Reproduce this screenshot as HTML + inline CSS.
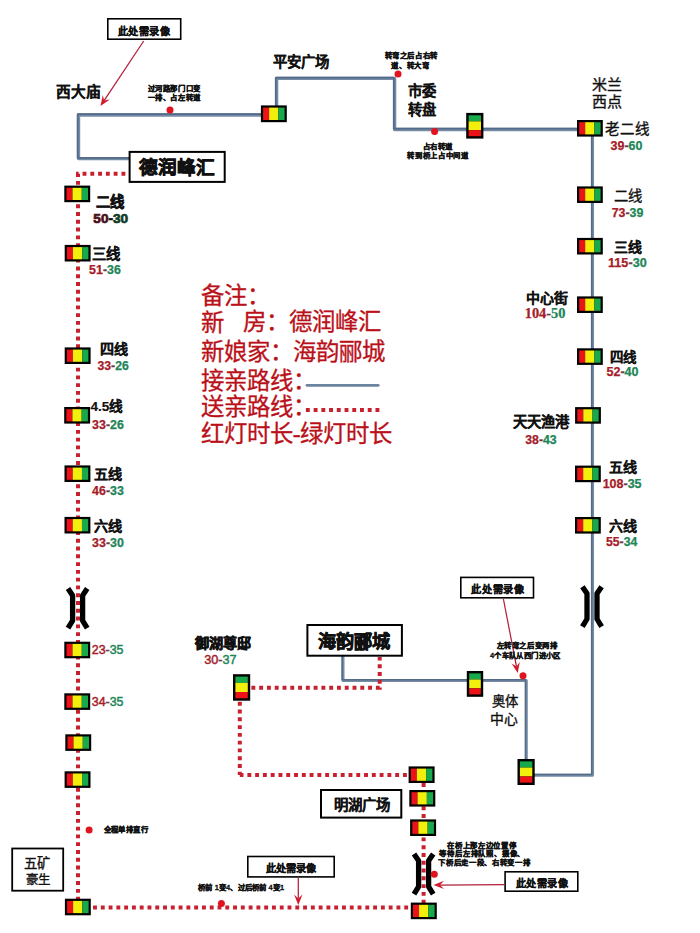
<!DOCTYPE html><html lang="zh-CN"><head><meta charset="utf-8"><title>route</title><style>
*{margin:0;padding:0}
html,body{width:700px;height:933px;overflow:hidden;background:#fff}
body{position:relative;font-family:"Liberation Sans",sans-serif}
svg{position:absolute;left:0;top:0}
.t{position:absolute;white-space:pre;line-height:1;color:#111}
.lb{font-weight:700;-webkit-text-stroke:0.15px #111}
.lr{font-weight:400;-webkit-text-stroke:0.35px #111}
.bd{font-weight:700;-webkit-text-stroke:0.6px #111}
.nm{font-weight:700;font-family:"Liberation Sans",sans-serif;-webkit-text-stroke-width:0.25px}
.nm.lt{font-weight:400;-webkit-text-stroke-width:0.45px}
.hv{-webkit-text-stroke-width:0.7px}
.nm.ser{font-family:"Liberation Serif",serif}
.tn{font-weight:700;-webkit-text-stroke:0.3px #111}
.lg{color:#ba1019;font-family:"Liberation Serif",serif;-webkit-text-stroke:0.3px #ba1019}
.r{color:#a51b29}.g{color:#218456}.h{color:#6a3a44}
.dr{color:#4a0f18}.dg{color:#143c26}
</style></head><body><svg width="700" height="933" viewBox="0 0 700 933"><polyline points="130,158.6 78.5,158.6 78.5,115 262,115" fill="none" stroke="#768ca6" stroke-width="3.4" stroke-linejoin="round"/><polyline points="276.6,106 276.6,78.4 394.6,78.4 394.6,129.5 590,129.5" fill="none" stroke="#768ca6" stroke-width="3.4" stroke-linejoin="round"/><polyline points="592.5,130 592.5,775.3 530,775.3" fill="none" stroke="#768ca6" stroke-width="3.1" stroke-linejoin="round"/><polyline points="526.3,760 526.3,680.5 343,680.5 343,656" fill="none" stroke="#768ca6" stroke-width="3.0" stroke-linejoin="round"/><g transform="translate(-0.8,-0.8)"><polyline points="130,158.6 78.5,158.6 78.5,115 262,115" fill="none" stroke="#536b88" stroke-width="1.7" stroke-linejoin="round"/></g><g transform="translate(-0.8,-0.8)"><polyline points="276.6,106 276.6,78.4 394.6,78.4 394.6,129.5 590,129.5" fill="none" stroke="#536b88" stroke-width="1.7" stroke-linejoin="round"/></g><g transform="translate(-0.8,-0.8)"><polyline points="592.5,130 592.5,775.3 530,775.3" fill="none" stroke="#536b88" stroke-width="1.55" stroke-linejoin="round"/></g><g transform="translate(-0.8,-0.8)"><polyline points="526.3,760 526.3,680.5 343,680.5 343,656" fill="none" stroke="#536b88" stroke-width="1.5" stroke-linejoin="round"/></g><polyline points="379.7,657 379.7,687.7 250,687.7" fill="none" stroke="#c8202f" stroke-width="4.0" stroke-dasharray="3.89 3.89" stroke-dashoffset="0.5"/><polyline points="239.8,701 239.8,775.0" fill="none" stroke="#c8202f" stroke-width="4.0" stroke-dasharray="3.89 3.89" stroke-dashoffset="-0.8"/><polyline points="239.8,775.0 411,775.0" fill="none" stroke="#c8202f" stroke-width="4.0" stroke-dasharray="3.89 3.89" stroke-dashoffset="0.2"/><polyline points="423.6,783 423.6,903" fill="none" stroke="#c8202f" stroke-width="4.0" stroke-dasharray="3.89 3.89"/><polyline points="411,907.5 78,907.5" fill="none" stroke="#c8202f" stroke-width="4.0" stroke-dasharray="3.89 3.89" stroke-dashoffset="-2.86"/><polyline points="78,907.5 78,173.8 129,173.8" fill="none" stroke="#c8202f" stroke-width="4.0" stroke-dasharray="3.89 3.89" stroke-dashoffset="0.85"/><path d="M68.0 588.6 L72.6 595.4 L72.6 620.6 L68.0 628.2" fill="none" stroke="#000" stroke-width="5.3" stroke-linejoin="round"/><path d="M87.2 588.6 L82.6 595.4 L82.6 620.6 L87.2 628.2" fill="none" stroke="#000" stroke-width="5.3" stroke-linejoin="round"/><path d="M582.4 586.8 L587.0 593.6 L587.0 619.0 L582.4 626.6" fill="none" stroke="#000" stroke-width="5.3" stroke-linejoin="round"/><path d="M601.6 586.8 L597.0 593.6 L597.0 619.0 L601.6 626.6" fill="none" stroke="#000" stroke-width="5.3" stroke-linejoin="round"/><path d="M414.0 854.0 L418.6 860.8 L418.6 886.6 L414.0 894.2" fill="none" stroke="#000" stroke-width="5.3" stroke-linejoin="round"/><path d="M433.2 854.0 L428.6 860.8 L428.6 886.6 L433.2 894.2" fill="none" stroke="#000" stroke-width="5.3" stroke-linejoin="round"/><rect x="64.30" y="185.60" width="25.90" height="16.60" fill="#000"/><rect x="66.50" y="187.80" width="6.02" height="12.20" fill="#ec1318"/><rect x="72.52" y="187.80" width="9.24" height="12.20" fill="#f3ef0c"/><rect x="81.77" y="187.80" width="6.24" height="12.20" fill="#17a94b"/><rect x="64.70" y="244.90" width="25.90" height="16.60" fill="#000"/><rect x="66.90" y="247.10" width="6.02" height="12.20" fill="#ec1318"/><rect x="72.92" y="247.10" width="9.24" height="12.20" fill="#f3ef0c"/><rect x="82.17" y="247.10" width="6.24" height="12.20" fill="#17a94b"/><rect x="64.70" y="347.40" width="25.90" height="16.60" fill="#000"/><rect x="66.90" y="349.60" width="6.02" height="12.20" fill="#ec1318"/><rect x="72.92" y="349.60" width="9.24" height="12.20" fill="#f3ef0c"/><rect x="82.17" y="349.60" width="6.24" height="12.20" fill="#17a94b"/><rect x="64.20" y="407.00" width="25.90" height="16.60" fill="#000"/><rect x="66.40" y="409.20" width="6.02" height="12.20" fill="#ec1318"/><rect x="72.42" y="409.20" width="9.24" height="12.20" fill="#f3ef0c"/><rect x="81.67" y="409.20" width="6.24" height="12.20" fill="#17a94b"/><rect x="64.50" y="465.40" width="25.90" height="16.60" fill="#000"/><rect x="66.70" y="467.60" width="6.02" height="12.20" fill="#ec1318"/><rect x="72.72" y="467.60" width="9.24" height="12.20" fill="#f3ef0c"/><rect x="81.97" y="467.60" width="6.24" height="12.20" fill="#17a94b"/><rect x="64.50" y="516.90" width="25.90" height="16.60" fill="#000"/><rect x="66.70" y="519.10" width="6.02" height="12.20" fill="#ec1318"/><rect x="72.72" y="519.10" width="9.24" height="12.20" fill="#f3ef0c"/><rect x="81.97" y="519.10" width="6.24" height="12.20" fill="#17a94b"/><rect x="64.30" y="641.70" width="25.90" height="16.60" fill="#000"/><rect x="66.50" y="643.90" width="6.02" height="12.20" fill="#ec1318"/><rect x="72.52" y="643.90" width="9.24" height="12.20" fill="#f3ef0c"/><rect x="81.77" y="643.90" width="6.24" height="12.20" fill="#17a94b"/><rect x="64.30" y="693.30" width="25.90" height="16.60" fill="#000"/><rect x="66.50" y="695.50" width="6.02" height="12.20" fill="#ec1318"/><rect x="72.52" y="695.50" width="9.24" height="12.20" fill="#f3ef0c"/><rect x="81.77" y="695.50" width="6.24" height="12.20" fill="#17a94b"/><rect x="65.30" y="734.30" width="25.90" height="16.60" fill="#000"/><rect x="67.50" y="736.50" width="6.02" height="12.20" fill="#ec1318"/><rect x="73.52" y="736.50" width="9.24" height="12.20" fill="#f3ef0c"/><rect x="82.77" y="736.50" width="6.24" height="12.20" fill="#17a94b"/><rect x="64.60" y="771.30" width="25.90" height="16.60" fill="#000"/><rect x="66.80" y="773.50" width="6.02" height="12.20" fill="#ec1318"/><rect x="72.82" y="773.50" width="9.24" height="12.20" fill="#f3ef0c"/><rect x="82.06" y="773.50" width="6.24" height="12.20" fill="#17a94b"/><rect x="64.90" y="898.70" width="25.90" height="16.60" fill="#000"/><rect x="67.10" y="900.90" width="6.02" height="12.20" fill="#ec1318"/><rect x="73.12" y="900.90" width="9.24" height="12.20" fill="#f3ef0c"/><rect x="82.37" y="900.90" width="6.24" height="12.20" fill="#17a94b"/><rect x="577.00" y="120.00" width="25.80" height="16.60" fill="#000"/><rect x="579.20" y="122.20" width="5.99" height="12.20" fill="#ec1318"/><rect x="585.19" y="122.20" width="9.20" height="12.20" fill="#f3ef0c"/><rect x="594.39" y="122.20" width="6.21" height="12.20" fill="#17a94b"/><rect x="577.00" y="186.40" width="25.80" height="16.60" fill="#000"/><rect x="579.20" y="188.60" width="5.99" height="12.20" fill="#ec1318"/><rect x="585.19" y="188.60" width="9.20" height="12.20" fill="#f3ef0c"/><rect x="594.39" y="188.60" width="6.21" height="12.20" fill="#17a94b"/><rect x="577.00" y="237.90" width="25.80" height="16.60" fill="#000"/><rect x="579.20" y="240.10" width="5.99" height="12.20" fill="#ec1318"/><rect x="585.19" y="240.10" width="9.20" height="12.20" fill="#f3ef0c"/><rect x="594.39" y="240.10" width="6.21" height="12.20" fill="#17a94b"/><rect x="577.00" y="296.40" width="25.80" height="16.60" fill="#000"/><rect x="579.20" y="298.60" width="5.99" height="12.20" fill="#ec1318"/><rect x="585.19" y="298.60" width="9.20" height="12.20" fill="#f3ef0c"/><rect x="594.39" y="298.60" width="6.21" height="12.20" fill="#17a94b"/><rect x="577.00" y="348.30" width="25.80" height="16.60" fill="#000"/><rect x="579.20" y="350.50" width="5.99" height="12.20" fill="#ec1318"/><rect x="585.19" y="350.50" width="9.20" height="12.20" fill="#f3ef0c"/><rect x="594.39" y="350.50" width="6.21" height="12.20" fill="#17a94b"/><rect x="575.10" y="407.10" width="25.80" height="16.60" fill="#000"/><rect x="577.30" y="409.30" width="5.99" height="12.20" fill="#ec1318"/><rect x="583.29" y="409.30" width="9.20" height="12.20" fill="#f3ef0c"/><rect x="592.49" y="409.30" width="6.21" height="12.20" fill="#17a94b"/><rect x="575.00" y="465.60" width="25.80" height="16.60" fill="#000"/><rect x="577.20" y="467.80" width="5.99" height="12.20" fill="#ec1318"/><rect x="583.19" y="467.80" width="9.20" height="12.20" fill="#f3ef0c"/><rect x="592.39" y="467.80" width="6.21" height="12.20" fill="#17a94b"/><rect x="575.00" y="517.00" width="25.80" height="16.60" fill="#000"/><rect x="577.20" y="519.20" width="5.99" height="12.20" fill="#ec1318"/><rect x="583.19" y="519.20" width="9.20" height="12.20" fill="#f3ef0c"/><rect x="592.39" y="519.20" width="6.21" height="12.20" fill="#17a94b"/><rect x="260.90" y="105.40" width="25.90" height="16.80" fill="#000"/><rect x="263.10" y="107.60" width="6.02" height="12.40" fill="#ec1318"/><rect x="269.12" y="107.60" width="9.24" height="12.40" fill="#f3ef0c"/><rect x="278.36" y="107.60" width="6.24" height="12.40" fill="#17a94b"/><rect x="408.60" y="766.40" width="26.00" height="16.60" fill="#000"/><rect x="410.80" y="768.60" width="6.05" height="12.20" fill="#ec1318"/><rect x="416.85" y="768.60" width="9.29" height="12.20" fill="#f3ef0c"/><rect x="426.14" y="768.60" width="6.26" height="12.20" fill="#17a94b"/><rect x="409.30" y="790.00" width="26.00" height="16.60" fill="#000"/><rect x="411.50" y="792.20" width="6.05" height="12.20" fill="#ec1318"/><rect x="417.55" y="792.20" width="9.29" height="12.20" fill="#f3ef0c"/><rect x="426.84" y="792.20" width="6.26" height="12.20" fill="#17a94b"/><rect x="410.10" y="819.40" width="26.00" height="16.60" fill="#000"/><rect x="412.30" y="821.60" width="6.05" height="12.20" fill="#ec1318"/><rect x="418.35" y="821.60" width="9.29" height="12.20" fill="#f3ef0c"/><rect x="427.64" y="821.60" width="6.26" height="12.20" fill="#17a94b"/><rect x="410.80" y="902.60" width="26.00" height="16.60" fill="#000"/><rect x="413.00" y="904.80" width="6.05" height="12.20" fill="#ec1318"/><rect x="419.05" y="904.80" width="9.29" height="12.20" fill="#f3ef0c"/><rect x="428.34" y="904.80" width="6.26" height="12.20" fill="#17a94b"/><rect x="466.20" y="112.90" width="17.20" height="25.70" fill="#000"/><rect x="468.60" y="115.30" width="12.40" height="6.06" fill="#17a94b"/><rect x="468.60" y="121.36" width="12.40" height="8.78" fill="#f3ef0c"/><rect x="468.60" y="130.14" width="12.40" height="6.06" fill="#ec1318"/><rect x="466.80" y="671.00" width="16.40" height="25.80" fill="#000"/><rect x="469.20" y="673.40" width="11.60" height="6.09" fill="#17a94b"/><rect x="469.20" y="679.49" width="11.60" height="8.82" fill="#f3ef0c"/><rect x="469.20" y="688.31" width="11.60" height="6.09" fill="#ec1318"/><rect x="517.50" y="759.00" width="17.20" height="26.00" fill="#000"/><rect x="519.90" y="761.40" width="12.40" height="6.15" fill="#17a94b"/><rect x="519.90" y="767.55" width="12.40" height="8.90" fill="#f3ef0c"/><rect x="519.90" y="776.45" width="12.40" height="6.15" fill="#ec1318"/><rect x="233.00" y="674.20" width="17.20" height="26.50" fill="#000"/><rect x="235.40" y="676.60" width="12.40" height="6.29" fill="#17a94b"/><rect x="235.40" y="682.89" width="12.40" height="9.11" fill="#f3ef0c"/><rect x="235.40" y="692.01" width="12.40" height="6.29" fill="#ec1318"/><circle cx="170" cy="110" r="3.5" fill="#e0141e"/><circle cx="398" cy="74" r="3.5" fill="#e0141e"/><circle cx="434.6" cy="131.5" r="3.5" fill="#e0141e"/><circle cx="523" cy="675.7" r="3.5" fill="#e0141e"/><circle cx="89.1" cy="830" r="3.5" fill="#e0141e"/><circle cx="434.3" cy="874.2" r="3.5" fill="#e0141e"/><circle cx="221.4" cy="903.4" r="3.5" fill="#e0141e"/><rect x="129.6" y="151.9" width="95.1" height="30.0" fill="#fff" stroke="#000" stroke-width="2"/><rect x="307.4" y="625.0" width="94.5" height="30.7" fill="#fff" stroke="#000" stroke-width="2"/><rect x="321.0" y="790.0" width="80.3" height="27.6" fill="#fff" stroke="#000" stroke-width="2"/><rect x="12.2" y="848.5" width="51.0" height="42.2" fill="#fff" stroke="#000" stroke-width="1.8"/><rect x="107.8" y="18.8" width="72.9" height="20.4" fill="#fff" stroke="#000" stroke-width="1.6"/><rect x="460.8" y="577.4" width="72.7" height="20.4" fill="#fff" stroke="#000" stroke-width="1.6"/><rect x="247.8" y="856.5" width="86.4" height="20.4" fill="#fff" stroke="#000" stroke-width="1.6"/><rect x="505.1" y="871.8" width="72.7" height="19.4" fill="#fff" stroke="#000" stroke-width="1.6"/><line x1="143.7" y1="41" x2="104.1" y2="100.6" stroke="#b2203a" stroke-width="1.25"/><polygon points="100.5,106 102.8,94.9 104.1,100.6 109.8,99.6" fill="#d3192a"/><line x1="503.4" y1="599" x2="516.5" y2="666.6" stroke="#b2203a" stroke-width="1.25"/><polygon points="517.7,673 511.6,663.5 516.5,666.6 519.8,661.9" fill="#d3192a"/><line x1="298.3" y1="878" x2="298.3" y2="898.5" stroke="#b2203a" stroke-width="1.25"/><polygon points="298.3,905 294.1,894.5 298.3,898.5 302.5,894.5" fill="#d3192a"/><line x1="504" y1="884.6" x2="440.0" y2="885.0" stroke="#b2203a" stroke-width="1.25"/><polygon points="433.5,885 444.0,880.7 440.0,885.0 444.0,889.1" fill="#d3192a"/><line x1="307" y1="385.3" x2="378.2" y2="385.3" stroke="#6c84a0" stroke-width="2.8" stroke-linecap="round"/><polyline points="305.9,410 379.5,410" fill="none" stroke="#c8202f" stroke-width="4" stroke-dasharray="3.9 3.83"/></svg><div class="t lb" style="left:55.50px;top:85.00px;font-size:14.71px">西大庙</div><div class="t lb" style="left:273.00px;top:55.30px;font-size:14.40px">平安广场</div><div class="t lb" style="left:408.40px;top:84.30px;font-size:14.32px">市委</div><div class="t lb" style="left:408.40px;top:102.95px;font-size:14.30px">转盘</div><div class="t lr" style="left:592.00px;top:76.60px;font-size:15.04px">米兰</div><div class="t lr" style="left:592.00px;top:94.05px;font-size:15.04px">西点</div><div class="t lr" style="left:604.85px;top:122.00px;font-size:14.52px">老二线</div><div class="t lr" style="left:614.25px;top:189.40px;font-size:14.34px">二线</div><div class="t lb" style="left:614.00px;top:240.70px;font-size:13.90px">三线</div><div class="t lb" style="left:525.85px;top:292.25px;font-size:13.97px">中心街</div><div class="t lb" style="left:610.35px;top:350.85px;font-size:13.41px">四线</div><div class="t lb" style="left:512.50px;top:415.15px;font-size:14.36px">天天渔港</div><div class="t lb" style="left:609.35px;top:460.15px;font-size:14.02px">五线</div><div class="t lb" style="left:609.35px;top:518.70px;font-size:14.02px">六线</div><div class="t lr" style="left:491.80px;top:695.35px;font-size:13.37px">奥体</div><div class="t lr" style="left:490.30px;top:712.50px;font-size:13.86px">中心</div><div class="t bd" style="left:194.50px;top:635.50px;font-size:14.10px">御湖尊邸</div><div class="t bd" style="left:96.10px;top:195.20px;font-size:14.34px">二线</div><div class="t lb" style="left:91.75px;top:246.65px;font-size:14.38px">三线</div><div class="t lb" style="left:99.95px;top:342.35px;font-size:14.09px">四线</div><div class="t lb" style="left:90.55px;top:400.35px;font-size:13.58px">4.5线</div><div class="t lb" style="left:94.20px;top:467.00px;font-size:14.14px">五线</div><div class="t lb" style="left:94.20px;top:518.75px;font-size:14.14px">六线</div><div class="t bd" style="left:138.80px;top:158.80px;font-size:18.69px">德润峰汇</div><div class="t bd" style="left:317.50px;top:632.60px;font-size:18.20px">海韵郦城</div><div class="t lb" style="left:334.00px;top:798.00px;font-size:14.40px">明湖广场</div><div class="t lr" style="left:24.35px;top:857.10px;font-size:13.30px">五矿</div><div class="t lr" style="left:25.55px;top:873.70px;font-size:12.39px">豪生</div><div class="t tn" style="left:118.00px;top:26.60px;font-size:10.20px;letter-spacing:0.40px">此处需录像</div><div class="t tn" style="left:471.00px;top:584.60px;font-size:10.20px;letter-spacing:0.80px">此处需录像</div><div class="t tn" style="left:265.85px;top:864.45px;font-size:10.20px;letter-spacing:0.07px">此处需录像</div><div class="t tn" style="left:515.65px;top:878.85px;font-size:10.20px;letter-spacing:0.47px">此处需录像</div><div class="t nm hv" style="left:93.35px;top:212.35px;font-size:13.62px"><span class="dr">50</span>-<span class="dg">30</span></div><div class="t nm" style="left:89.10px;top:264.00px;font-size:12.40px"><span class="r">51</span><span class="h">-</span><span class="g">36</span></div><div class="t nm" style="left:97.40px;top:359.65px;font-size:12.25px"><span class="r">33</span><span class="h">-</span><span class="g">26</span></div><div class="t nm" style="left:92.10px;top:419.25px;font-size:12.40px"><span class="r">33</span><span class="h">-</span><span class="g">26</span></div><div class="t nm" style="left:92.10px;top:485.30px;font-size:12.40px"><span class="r">46</span><span class="h">-</span><span class="g">33</span></div><div class="t nm" style="left:92.10px;top:536.85px;font-size:12.40px"><span class="r">33</span><span class="h">-</span><span class="g">30</span></div><div class="t nm lt" style="left:91.80px;top:644.25px;font-size:12.39px"><span class="r">23</span><span class="h">-</span><span class="g">35</span></div><div class="t nm lt" style="left:91.80px;top:696.00px;font-size:12.39px"><span class="r">34</span><span class="h">-</span><span class="g">35</span></div><div class="t nm" style="left:610.55px;top:139.65px;font-size:12.47px"><span class="r">39</span><span class="h">-</span><span class="g">60</span></div><div class="t nm" style="left:611.75px;top:206.50px;font-size:12.34px"><span class="r">73</span><span class="h">-</span><span class="g">39</span></div><div class="t nm" style="left:608.00px;top:256.50px;font-size:12.65px"><span class="r">115</span><span class="h">-</span><span class="g">30</span></div><div class="t nm ser" style="left:524.70px;top:306.35px;font-size:14.41px"><span class="r">104</span><span class="h">-</span><span class="g">50</span></div><div class="t nm" style="left:606.45px;top:366.30px;font-size:12.56px"><span class="r">52</span><span class="h">-</span><span class="g">40</span></div><div class="t nm" style="left:525.30px;top:433.85px;font-size:12.26px"><span class="r">38</span><span class="h">-</span><span class="g">43</span></div><div class="t nm" style="left:602.65px;top:477.85px;font-size:12.49px"><span class="r">108</span><span class="h">-</span><span class="g">35</span></div><div class="t nm" style="left:606.00px;top:536.30px;font-size:12.20px"><span class="r">55</span><span class="h">-</span><span class="g">34</span></div><div class="t nm lt" style="left:204.20px;top:654.20px;font-size:12.69px"><span class="r">30</span><span class="h">-</span><span class="g">37</span></div><div class="t tn" style="left:147.90px;top:84.65px;font-size:7.40px;letter-spacing:0.53px">过河路那门口变</div><div class="t tn" style="left:147.90px;top:94.00px;font-size:7.40px;letter-spacing:0.53px">一排、占左转道</div><div class="t tn" style="left:384.75px;top:52.30px;font-size:7.40px;letter-spacing:0.58px">转弯之后占右转</div><div class="t tn" style="left:391.00px;top:61.60px;font-size:7.40px;letter-spacing:0.75px">道、转大弯</div><div class="t tn" style="left:423.00px;top:143.10px;font-size:7.40px;letter-spacing:0.33px">占右转道</div><div class="t tn" style="left:407.45px;top:152.45px;font-size:7.40px;letter-spacing:0.62px">转到桥上占中间道</div><div class="t tn" style="left:496.55px;top:642.35px;font-size:7.40px;letter-spacing:0.62px">左转弯之后变两排</div><div class="t tn" style="left:489.90px;top:651.50px;font-size:7.40px;letter-spacing:0.37px">4个车队从西门进小区</div><div class="t tn" style="left:103.50px;top:826.10px;font-size:7.40px;letter-spacing:0.44px">全程单排直行</div><div class="t tn" style="left:198.10px;top:884.25px;font-size:7.40px;letter-spacing:0.17px">桥前 1变4、过后桥前 4变1</div><div class="t tn" style="left:447.40px;top:841.55px;font-size:7.40px;letter-spacing:0.65px">在桥上那左边位置停</div><div class="t tn" style="left:439.40px;top:850.20px;font-size:7.40px;letter-spacing:0.80px">等待后左排队照、摄像、</div><div class="t tn" style="left:438.40px;top:859.40px;font-size:7.40px;letter-spacing:0.67px">下桥后走一段、右转变一排</div><div class="t lg" style="left:201.00px;top:285.30px;font-size:23.40px">备注：</div><div class="t lg" style="left:201.00px;top:311.50px;font-size:23.40px">新</div><div class="t lg" style="left:243.40px;top:310.85px;font-size:23.40px">房：德润峰汇</div><div class="t lg" style="left:201.00px;top:341.00px;font-size:23.40px">新娘家：海韵郦城</div><div class="t lg" style="left:200.70px;top:370.15px;font-size:23.40px">接亲路线：</div><div class="t lg" style="left:200.70px;top:396.45px;font-size:23.40px">送亲路线：</div><div class="t lg" style="left:200.70px;top:423.15px;font-size:23.40px">红灯时长-绿灯时长</div></body></html>
